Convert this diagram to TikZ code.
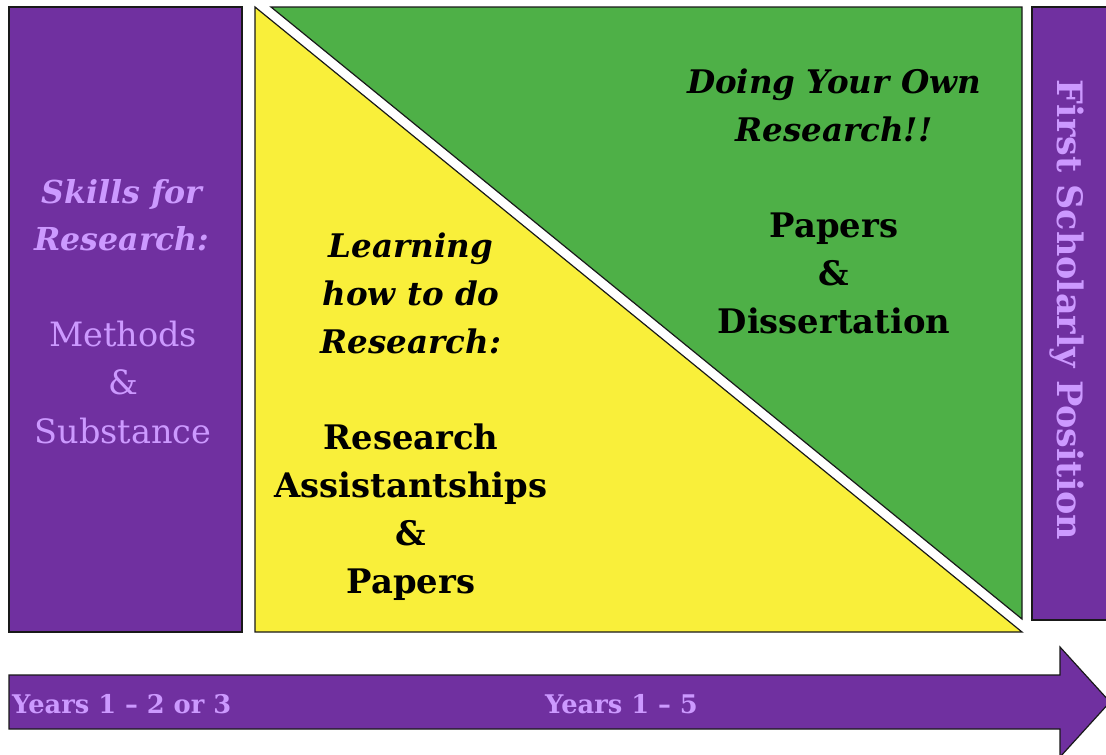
\documentclass[tikz,border=0pt]{standalone}
\usepackage{fontspec}
\setmainfont{DejaVu Serif}
\definecolor{purp}{HTML}{7030A0}
\definecolor{lilac}{HTML}{CC99FF}
\definecolor{grn}{HTML}{4EB047}
\definecolor{yel}{HTML}{F9EF3A}
\begin{document}
\begin{tikzpicture}[x=1pt,y=-1pt,
  shapeline/.style={draw=black!90,line width=1.2pt,line join=miter},
  bigtxt/.style={align=center,inner sep=0pt,anchor=base},
  yrtxt/.style={inner sep=0pt,text=lilac,anchor=base west,font=\fontsize{25.7}{30}\selectfont\bfseries}]
\useasboundingbox (0,0) rectangle (1106,755);
% left box
\fill[purp,shapeline] (9,7) rectangle (242,632);
% yellow triangle
\fill[yel,shapeline] (255,7) -- (255,632) -- (1022,632) -- cycle;
% green triangle
\fill[grn,shapeline] (271,7) -- (1022,7) -- (1022,619) -- cycle;
% right box
\fill[purp,shapeline] (1032,7) rectangle (1115,620);
% arrow
\fill[purp,shapeline] (9,675) -- (1060,675) -- (1060,647) -- (1110,702) -- (1060,757) -- (1060,729) -- (9,729) -- cycle;

\node[bigtxt,text=lilac,font=\fontsize{31.6}{47}\selectfont\bfseries\itshape] (skills) at (122,250) {Skills for\\Research:};
\node[bigtxt,text=lilac,font=\fontsize{33.5}{48.5}\selectfont] (methods) at (123,443) {Methods\\\&\\Substance};
\node[bigtxt,font=\fontsize{32.5}{48}\selectfont\bfseries\itshape] (learn) at (411,353) {Learning\\how to do\\Research:};
\node[bigtxt,font=\fontsize{33.8}{48}\selectfont\bfseries] (ra) at (411,593) {Research\\Assistantships\\\&\\Papers};
\node[bigtxt,font=\fontsize{32.5}{48}\selectfont\bfseries\itshape] (doing) at (834,141) {Doing Your Own\\Research!!};
\node[bigtxt,font=\fontsize{33.8}{48}\selectfont\bfseries] (papers) at (834,333) {Papers\\\&\\Dissertation};
\node[inner sep=0pt,text=lilac,font=\fontsize{35}{40}\selectfont\bfseries,rotate=-90] (first) at (1067,310) {First Scholarly Position};
\node[yrtxt] (y1) at (12,713) {Years 1 – 2 or 3};
\node[yrtxt] (y2) at (545,713) {Years 1 – 5};
\end{tikzpicture}
\end{document}
